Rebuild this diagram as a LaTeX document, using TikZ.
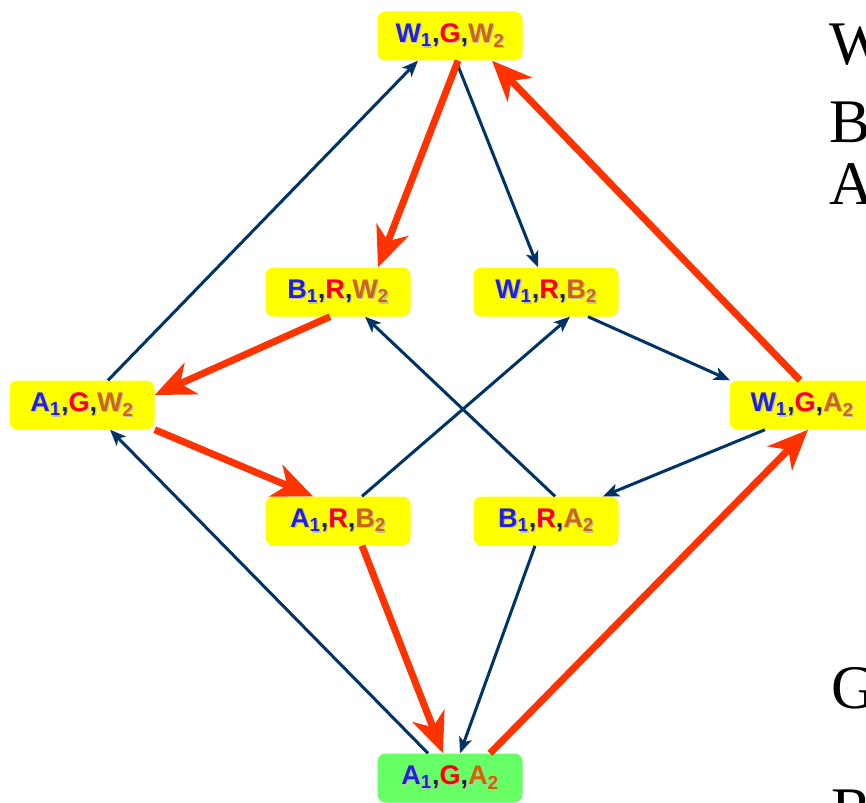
\documentclass[tikz,border=0pt]{standalone}
\usepackage{fontspec}
\setmainfont{Liberation Sans}
\newfontfamily\serifletters{Liberation Serif}
\usetikzlibrary{arrows.meta}
\definecolor{boxy}{HTML}{FFFF00}
\definecolor{boxg}{HTML}{66FF66}
\definecolor{tb}{HTML}{2020DD}
\definecolor{tr}{HTML}{FF0000}
\definecolor{to}{HTML}{CC6600}
\definecolor{ck}{HTML}{202040}
\definecolor{shc}{HTML}{C0C0A8}
\definecolor{navy}{HTML}{003366}
\definecolor{redarr}{HTML}{FF3300}
\newcommand\trip[3]{\makebox[0pt][l]{\hspace{1.4pt}\raisebox{-1.4pt}{\color{shc}#1\textsubscript{1},#2,#3\textsubscript{2}}}{\color{tb}#1\textsubscript{1}}{\color{ck},}{\color{tr}#2}{\color{ck},}{\color{to}#3\textsubscript{2}}}
\tikzset{
  statebox/.style={rounded corners=8pt, fill=boxy, minimum width=145pt, minimum height=49pt, inner sep=0pt,
    font=\fontsize{27}{30}\selectfont\bfseries},
  goalbox/.style={statebox, fill=boxg},
  thin arr/.style={draw=navy, line width=3pt, -{Stealth[length=16pt,width=13pt,inset=4pt]}},
  thick arr/.style={draw=redarr, line width=7pt, -{Stealth[length=40pt,width=34pt,inset=12pt]}},
  bigletter/.style={font=\serifletters\fontsize{62}{70}\selectfont, anchor=base west, inner sep=0pt, text=black}
}
\begin{document}
\begin{tikzpicture}[x=1pt,y=-1pt]
\useasboundingbox (0,0) rectangle (866,802);
\node[statebox] (wgw) at (450,36) {\trip{W}{G}{W}};
\node[statebox] (brw) at (338,292) {\trip{B}{R}{W}};
\node[statebox] (wrb) at (546,292) {\trip{W}{R}{B}};
\node[statebox] (agw) at (82,405) {\trip{A}{G}{W}};
\node[statebox] (wga) at (802,405) {\trip{W}{G}{A}};
\node[statebox] (arb) at (338,521) {\trip{A}{R}{B}};
\node[statebox] (bra) at (546,521) {\trip{B}{R}{A}};
\node[goalbox] (aga) at (450,778) {\trip{A}{G}{A}};

\node[bigletter] (lw) at (829,65) {W};
\node[bigletter] (lb) at (829,143) {B};
\node[bigletter] (la) at (829,205) {A};
\node[bigletter] (lg) at (831,708) {G};
\node[bigletter] (lr) at (831,830) {R};

% navy arrows
\draw[thin arr] ([xshift=26pt]agw.north) -- ([xshift=-32pt]wgw.south);
\draw[thin arr] ([xshift=6pt]wgw.south) -- ([xshift=-8pt]wrb.north);
\draw[thin arr] ([xshift=42pt]wrb.south) -- ([xshift=-72pt]wga.north);
\draw[thin arr] ([xshift=24pt]arb.north) -- ([xshift=24pt]wrb.south);
\draw[thin arr] ([xshift=9pt]bra.north) -- ([xshift=27pt]brw.south);
\draw[thin arr] ([xshift=-37pt]wga.south) -- ([xshift=57pt]bra.north);
\draw[thin arr] ([xshift=-22pt]aga.north) -- ([xshift=28pt]agw.south);
\draw[thin arr] ([xshift=-11pt]bra.south) -- ([xshift=10pt]aga.north);

% red arrows
\draw[thick arr] ([xshift=8pt]wgw.south) -- ([xshift=40pt]brw.north);
\draw[thick arr] ([xshift=-2pt]wga.north) -- ([xshift=42pt]wgw.south);
\draw[thick arr] ([xshift=-8pt]brw.south) -- ([yshift=10pt]agw.east);
\draw[thick arr] (agw.south east) -- ([xshift=-25pt]arb.north);
\draw[thick arr] ([xshift=24pt]arb.south) -- ([xshift=-7pt]aga.north);
\draw[thick arr] ([xshift=40pt]aga.north) -- ([xshift=6pt]wga.south);
\end{tikzpicture}
\end{document}
